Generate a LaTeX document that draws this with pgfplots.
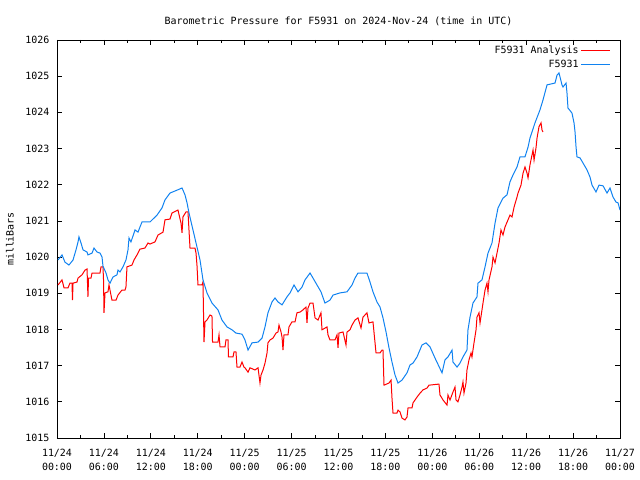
\documentclass[border=0pt]{standalone}
\usepackage{fontspec}
\setmainfont{DejaVu Sans Mono}
\usepackage{pgfplots}
\pgfplotsset{compat=1.18}
\definecolor{obsblue}{RGB}{16,130,240}
\begin{document}
\fontsize{10}{14}\selectfont
\begin{tikzpicture}
\path[use as bounding box] (-57bp,-42bp) rectangle (583bp,438bp);
\begin{axis}[
  at={(0,0)}, anchor=south west,
  scale only axis, width=563bp, height=398bp,
  xmin=0, xmax=72, ymin=1015, ymax=1026,
  xtick={0,6,...,72},
  xticklabels={11/24\\00:00,11/24\\06:00,11/24\\12:00,11/24\\18:00,11/25\\00:00,11/25\\06:00,11/25\\12:00,11/25\\18:00,11/26\\00:00,11/26\\06:00,11/26\\12:00,11/26\\18:00,11/27\\00:00},
  minor xtick={3,9,...,69},
  ytick={1015,1016,...,1026},
  /pgf/number format/assume math mode=true,
  /pgf/number format/.cd, set thousands separator={}, fixed, precision=0, /pgfplots/.cd,
  tick align=inside,
  major tick length=5bp, minor tick length=3bp,
  every tick/.style={black, line width=0.8bp},
  axis line style={line width=0.8bp},
  xticklabel style={align=center, yshift=-8bp, font=\fontsize{10}{14}\selectfont},
  yticklabel style={xshift=-4bp, font=\fontsize{10}{14}\selectfont},
  title={Barometric Pressure for F5931 on 2024-Nov-24 (time in UTC)},
  title style={at={(axis description cs:0.5,1)}, anchor=base, yshift=10bp, font=\fontsize{10}{14}\selectfont},
  ylabel={milliBars},
  every axis y label/.style={at={(axis description cs:-0.0835,0.5)}, rotate=90, anchor=center, font=\fontsize{10}{14}\selectfont},
  legend plot pos=right,
  legend cell align=right,
  legend style={draw=none, fill=none, at={(axis description cs:1,1)}, anchor=north east, xshift=-6bp, yshift=-1.5bp, row sep=1bp, font=\fontsize{10}{12}\selectfont},
  legend image code/.code={\draw[#1, line width=1.2bp] (0bp,0bp) -- (29bp,0bp);},
  no markers,
]
\addplot[red, line width=1bp] coordinates {
(0.13,1019.23) (0.64,1019.37) (0.90,1019.15) (1.41,1019.15) (1.66,1019.28) (1.92,1019.28) (1.98,1018.81) (2.05,1019.28)
(2.56,1019.31) (2.69,1019.42) (3.20,1019.51) (3.58,1019.64) (3.84,1019.67) (3.96,1018.90) (4.03,1019.42) (4.35,1019.42)
(4.48,1019.56) (5.50,1019.56) (5.63,1019.73) (5.88,1019.73) (5.95,1019.37) (6.01,1018.46) (6.14,1019.01) (6.52,1019.04)
(6.65,1019.23) (7.03,1018.81) (7.55,1018.81) (7.80,1018.95) (8.31,1019.09) (8.70,1019.09) (8.82,1019.17) (8.95,1019.73)
(9.59,1019.78) (9.85,1019.92) (10.23,1020.06) (10.61,1020.22) (11.25,1020.25) (11.64,1020.39) (11.89,1020.36) (12.53,1020.42)
(12.92,1020.61) (13.56,1020.69) (13.81,1021.03) (14.45,1021.05) (14.71,1021.22) (15.47,1021.30) (15.86,1020.94) (15.99,1020.67)
(16.11,1021.11) (16.50,1021.25) (16.75,1021.25) (16.88,1020.75) (17.01,1020.25) (17.65,1020.25) (17.78,1020.11) (17.90,1019.78)
(18.03,1019.23) (18.54,1019.23) (18.67,1019.31) (18.80,1017.65) (18.93,1018.21) (19.18,1018.26) (19.57,1018.40) (19.82,1018.37)
(19.89,1017.65) (20.59,1017.65) (20.72,1017.85) (20.85,1017.52) (21.49,1017.52) (21.61,1017.71) (21.87,1017.71) (21.93,1017.24)
(22.51,1017.24) (22.64,1017.38) (22.89,1017.38) (23.02,1016.96) (23.40,1016.96) (23.66,1017.10) (23.91,1016.96) (24.04,1016.94)
(24.43,1016.82) (24.68,1016.94) (25.32,1016.88) (25.71,1016.94) (25.96,1016.52) (26.09,1016.74) (26.35,1016.88) (26.60,1017.07)
(26.86,1017.35) (26.98,1017.63) (27.24,1017.71) (27.62,1017.76) (28.01,1017.90) (28.26,1017.93) (28.39,1018.12) (28.65,1017.93)
(28.78,1017.79) (28.90,1017.43) (29.03,1017.85) (29.54,1017.85) (29.67,1018.07) (30.05,1018.21) (30.44,1018.21) (30.69,1018.46)
(31.08,1018.48) (31.46,1018.54) (31.84,1018.62) (31.97,1018.18) (32.10,1018.59) (32.36,1018.73) (32.74,1018.73) (33.00,1018.32)
(33.38,1018.26) (33.76,1018.46) (33.89,1017.99) (34.53,1018.07) (34.66,1017.85) (34.91,1017.71) (35.55,1017.71) (35.81,1017.85)
(35.94,1017.49) (36.06,1017.90) (36.58,1017.93) (36.96,1017.57) (37.09,1017.93) (37.47,1017.99) (37.73,1018.12) (38.11,1018.26)
(38.49,1018.32) (38.88,1018.04) (39.13,1018.34) (39.64,1018.46) (39.90,1018.18) (40.41,1018.21) (40.80,1017.35) (41.31,1017.35)
(41.56,1017.43) (41.69,1017.43) (41.82,1016.46) (42.46,1016.52) (42.72,1016.60) (42.84,1016.11) (42.97,1015.69) (43.48,1015.69)
(43.61,1015.77) (43.87,1015.72) (44.12,1015.55) (44.50,1015.50) (44.76,1015.58) (44.89,1015.83) (45.40,1015.83) (45.53,1015.97)
(46.04,1016.13) (46.43,1016.24) (46.81,1016.33) (47.32,1016.38) (47.57,1016.46) (48.85,1016.49) (48.98,1016.19) (49.37,1016.05)
(49.88,1015.91) (50.00,1016.19) (50.26,1016.05) (50.64,1016.27) (50.90,1016.41) (51.03,1016.05) (51.28,1016.00) (51.54,1016.19)
(51.80,1016.41) (51.92,1016.55) (52.05,1016.24) (52.31,1016.52) (52.43,1016.88) (52.69,1017.16) (52.95,1017.35) (53.07,1017.24)
(53.33,1017.63) (53.59,1017.99) (53.71,1018.34) (53.97,1018.46) (54.10,1018.18) (54.35,1018.54) (54.48,1018.73) (54.74,1019.09)
(54.99,1019.28) (55.12,1019.04) (55.25,1019.37) (55.63,1019.73) (55.76,1020.00) (56.02,1019.84) (56.27,1020.11) (56.53,1020.39)
(56.78,1020.75) (57.04,1020.61) (57.29,1020.83) (57.68,1021.03) (57.93,1021.16) (58.19,1021.11) (58.45,1021.38) (58.83,1021.66)
(58.96,1021.77) (59.34,1021.99) (59.60,1022.32) (59.85,1022.49) (60.11,1022.32) (60.24,1022.19) (60.49,1022.55) (60.88,1022.96)
(61.01,1022.68) (61.26,1023.02) (61.39,1023.29) (61.64,1023.60) (61.90,1023.71) (62.03,1023.51) (62.15,1023.46)
};
\addlegendentry{F5931 Analysis}
\addplot[obsblue, line width=1bp] coordinates {
(0.13,1019.92) (0.64,1020.06) (1.02,1019.86) (1.53,1019.78) (2.05,1019.92) (2.43,1020.20) (2.69,1020.42) (2.81,1020.56)
(3.07,1020.39) (3.33,1020.20) (3.84,1020.14) (3.96,1020.06) (4.48,1020.11) (4.73,1020.25) (5.12,1020.14) (5.50,1020.11)
(5.76,1020.00) (5.88,1019.75) (6.27,1019.56) (6.52,1019.37) (6.78,1019.28) (7.16,1019.45) (7.67,1019.51) (7.80,1019.64)
(8.06,1019.59) (8.44,1019.73) (8.82,1019.92) (9.08,1020.20) (9.21,1020.53) (9.46,1020.42) (9.98,1020.75) (10.36,1020.69)
(10.61,1020.83) (10.87,1020.97) (11.89,1020.97) (12.79,1021.16) (13.43,1021.36) (13.81,1021.58) (14.45,1021.77) (15.35,1021.85)
(15.99,1021.91) (16.37,1021.72) (16.63,1021.50) (16.88,1021.22) (17.39,1020.75) (17.90,1020.28) (18.29,1019.92) (18.67,1019.37)
(19.18,1019.01) (19.82,1018.73) (20.59,1018.54) (21.10,1018.26) (21.74,1018.07) (22.38,1017.99) (22.89,1017.90) (23.66,1017.87)
(24.04,1017.71) (24.43,1017.43) (24.94,1017.63) (25.71,1017.65) (26.22,1017.76) (26.60,1018.07) (26.98,1018.46) (27.50,1018.76)
(27.88,1018.87) (28.26,1018.76) (28.78,1018.68) (29.41,1018.90) (29.80,1019.01) (30.31,1019.23) (30.82,1019.04) (31.33,1019.17)
(31.72,1019.37) (32.36,1019.56) (32.74,1019.42) (33.25,1019.23) (33.76,1019.04) (34.27,1018.73) (34.91,1018.81) (35.30,1018.95)
(36.19,1019.01) (37.09,1019.04) (37.73,1019.23) (38.11,1019.42) (38.49,1019.56) (39.64,1019.56) (40.03,1019.31) (40.41,1019.04)
(40.92,1018.76) (41.31,1018.62) (41.69,1018.32) (42.08,1017.93) (42.46,1017.49) (42.84,1017.10) (43.23,1016.74) (43.61,1016.52)
(44.12,1016.60) (44.76,1016.80) (45.15,1017.02) (45.53,1017.07) (46.04,1017.24) (46.68,1017.57) (47.19,1017.63) (47.70,1017.52)
(48.34,1017.21) (49.24,1016.80) (49.62,1017.16) (50.00,1017.24) (50.52,1017.43) (50.64,1017.10) (51.16,1016.96) (51.54,1017.07)
(51.92,1017.24) (52.43,1017.43) (52.56,1017.99) (52.82,1018.34) (53.20,1018.73) (53.71,1018.90) (53.84,1019.28) (54.35,1019.37)
(54.74,1019.73) (55.12,1020.11) (55.63,1020.39) (56.02,1020.94) (56.40,1021.36) (57.04,1021.63) (57.55,1021.72) (57.93,1022.08)
(58.32,1022.27) (58.83,1022.49) (59.21,1022.77) (59.85,1022.77) (60.24,1023.04) (60.49,1023.29) (61.13,1023.71) (61.77,1024.07)
(62.15,1024.34) (62.67,1024.76) (63.69,1024.81) (63.95,1025.03) (64.20,1025.09) (64.58,1024.76) (64.71,1024.70) (65.10,1024.81)
(65.22,1024.54) (65.35,1024.12) (65.86,1023.98) (66.12,1023.71) (66.25,1023.46) (66.38,1023.04) (66.50,1022.77) (66.89,1022.74)
(67.27,1022.60) (67.78,1022.41) (68.17,1022.21) (68.42,1021.99) (68.93,1021.80) (69.32,1021.99) (69.83,1021.97) (70.34,1021.77)
(70.72,1021.91) (71.11,1021.66) (71.49,1021.52) (71.75,1021.50) (72.00,1021.30)
};
\addlegendentry{F5931}
\end{axis}
\end{tikzpicture}
\end{document}
